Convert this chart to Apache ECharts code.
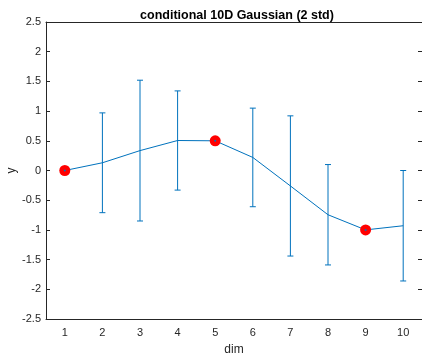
<!DOCTYPE html>
<html>
<head>
<meta charset="utf-8">
<script src="https://cdn.jsdelivr.net/npm/echarts@6/dist/echarts.min.js"></script>
<style>
html,body{margin:0;padding:0;background:#fff;}
#c{width:422px;height:354px;}
</style>
</head>
<body>
<div id="c"></div>
<script>
const dims = ['1','2','3','4','5','6','7','8','9','10'];
const means = [0, 0.13, 0.335, 0.505, 0.5, 0.22, -0.26, -0.745, -1, -0.93];
const errs = [0, 0.84, 1.185, 0.835, 0, 0.83, 1.18, 0.845, 0, 0.93];
const condDims = ['1','5','9'];
const condVals = [0, 0.5, -1];
const yTicks = [-2.5, 2.5, 0.5];

const font = 'Liberation Sans, Arial, Helvetica, sans-serif';
const axisColor = '#262626';
const blue = '#0072BD';

const errData = dims.map((d, i) => [i, means[i], errs[i]]);
const condData = condDims.map((d, i) => [d, condVals[i]]);

const chart = echarts.init(document.getElementById('c'), null, {renderer: 'canvas'});
chart.setOption({
  animation: false,
  backgroundColor: '#fff',
  title: {
    text: 'conditional 10D Gaussian (2 std)',
    left: 232, top: 4, textAlign: 'center',
    textStyle: {fontFamily: font, fontSize: 12.5, fontWeight: 'bold', color: '#000'}
  },
  grid: {left: 46, right: 0, top: 22, bottom: 35, outerBoundsMode: 'none', containLabel: false},
  xAxis: [{
    type: 'category', data: dims, boundaryGap: true,
    name: 'dim', nameLocation: 'middle', nameGap: 25, nameMoveOverlap: false,
    nameTextStyle: {fontFamily: font, fontSize: 12, color: axisColor},
    axisLine: {onZero: false, lineStyle: {color: axisColor, width: 1}},
    axisTick: {inside: true, length: 4, alignWithLabel: true, lineStyle: {color: axisColor}},
    axisLabel: {fontFamily: font, fontSize: 11, color: axisColor, margin: 8},
    splitLine: {show: false}
  }, {
    type: 'category', data: dims, boundaryGap: true, position: 'top',
    axisLine: {onZero: false, lineStyle: {color: axisColor, width: 1}},
    axisTick: {inside: true, length: 4, alignWithLabel: true, lineStyle: {color: axisColor}},
    axisLabel: {show: false}, splitLine: {show: false}
  }],
  yAxis: [{
    type: 'value', min: yTicks[0], max: yTicks[1], interval: yTicks[2],
    name: 'y', nameLocation: 'middle', nameGap: 28, nameRotate: 90, nameMoveOverlap: false,
    nameTextStyle: {fontFamily: font, fontSize: 12, color: axisColor},
    axisLine: {show: true, onZero: false, lineStyle: {color: axisColor, width: 1}},
    axisTick: {show: true, inside: true, length: 4, lineStyle: {color: axisColor}},
    axisLabel: {fontFamily: font, fontSize: 11, color: axisColor, margin: 5},
    splitLine: {show: false}
  }, {
    type: 'value', min: yTicks[0], max: yTicks[1], interval: yTicks[2], position: 'right',
    axisLine: {show: false, onZero: false},
    axisTick: {show: true, inside: true, length: 4, lineStyle: {color: axisColor}},
    axisLabel: {show: false}, splitLine: {show: false}
  }],
  series: [{
    type: 'custom',
    data: errData,
    z: 2,
    renderItem: function (params, api) {
      const x = api.value(0), m = api.value(1), e = api.value(2);
      const top = api.coord([x, m + e]);
      const bot = api.coord([x, m - e]);
      const hw = 3;
      const st = {stroke: blue, lineWidth: 1};
      return {type: 'group', children: [
        {type: 'line', shape: {x1: top[0], y1: top[1], x2: bot[0], y2: bot[1]}, style: st},
        {type: 'line', shape: {x1: top[0]-hw, y1: top[1], x2: top[0]+hw, y2: top[1]}, style: st},
        {type: 'line', shape: {x1: bot[0]-hw, y1: bot[1], x2: bot[0]+hw, y2: bot[1]}, style: st}
      ]};
    }
  }, {
    type: 'line', data: means, showSymbol: false, symbol: 'none', z: 3,
    lineStyle: {color: blue, width: 1}
  }, {
    type: 'scatter', data: condData, symbol: 'circle', symbolSize: 11, z: 4,
    itemStyle: {color: '#FF0000', opacity: 1}
  }, {
    type: 'scatter', data: condData, symbol: 'circle', symbolSize: 2, z: 5,
    itemStyle: {color: blue, opacity: 1}
  }]
});
</script>
</body>
</html>
